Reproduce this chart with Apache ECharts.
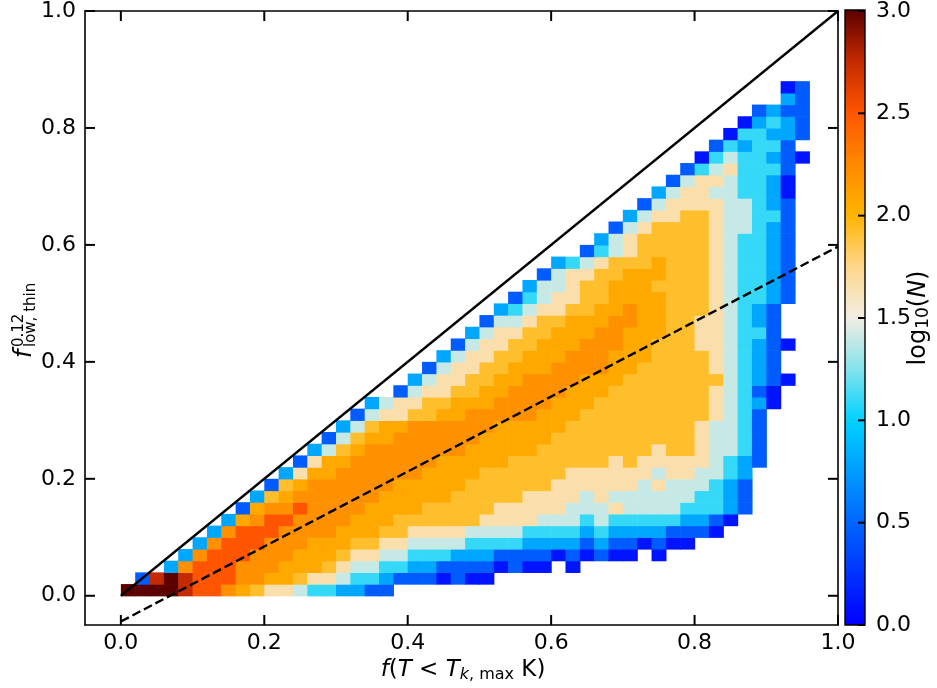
<!DOCTYPE html>
<html>
<head>
<meta charset="utf-8">
<script src="https://cdn.jsdelivr.net/npm/echarts@6/dist/echarts.min.js"></script>
<style>
html,body{margin:0;padding:0;background:#ffffff;}
#wrap{position:relative;width:937px;height:688px;}
#chart,#ticks{position:absolute;left:0;top:0;width:937px;height:688px;}
#ticks{pointer-events:none;}
</style>
</head>
<body>
<div id="wrap"><div id="chart"></div><div id="ticks"></div></div>
<script>
// ---------------- data ----------------
const X_TICKS = [0, 0.2, 0.4, 0.6, 0.8, 1.0];
const Y_TICKS = [0, 0.2, 0.4, 0.6, 0.8, 1.0];
const CB_TICKS = [0, 0.5, 1.0, 1.5, 2.0, 2.5, 3.0];

// bin width of the 2D histogram (x and y)
const BIN = 0.02;

// log10(N) value for each code letter used in ROW_CODES
const LEVELS = {'0':0.1,'1':0.45,'2':0.8,'3':1.1,'4':1.4,'5':1.65,'6':1.92,'7':2.07,'8':2.2,'9':2.5,'a':2.75,'b':3.0};

// first x-bin index of every y-bin row (row j covers y in [j*BIN,(j+1)*BIN])
const ROW_START = [0,1,3,4,5,6,7,8,9,10,11,12,13,14,15,16,17,19,20,21,22,23,24,25,26,27,28,29,30,32,33,34,35,36,37,38,39,40,41,42,43,44,45,46];

// histogram codes per row, starting at ROW_START ('.' = empty bin)
const ROW_CODES = [
  "bbbba99876554332211",
  "1aba999887765543321110100",
  "289998887776544332211110100.0",
  "28999888777655443332221111010100.0",
  "28999888777665544443333222212110100",
  "289998888777665555444433332322221110",
  "278998888777666666555544434333332210",
  "178898888777766666555554445444433321",
  "26788888877777666665555454444443321",
  "1678888887777766666655555545444321",
  "257788888877776666665555554554432",
  "157788888877777666666656555554321",
  "24678888888777776666666656654431",
  "1467788888877777666666666654431",
  "246778888887777766666666654431",
  "14556677888887776666666665431",
  "24556677788887776666666654320",
  "145566778888777666666654310",
  "245566778888777666666643210",
  "1455667778888776666654321",
  "245566777888777666654321",
  "145566777888776665543210",
  "2455667778877766554331",
  "144566777887766554321",
  "23455667787766654321",
  "13455667777666543321",
  "2445667776666543321",
  "145566777666543321",
  "23456667666543321",
  "134566666543321",
  "24566666543321",
  "1456666544321",
  "245566544331",
  "14555544321",
  "2455443320",
  "145543320",
  "13453331",
  "03433210",
  "132331",
  "033221",
  "02321",
  "1211",
  ".21",
  "01"
];

// reference lines
const SOLID_LINE = [[0, 0], [1, 1]];
const DASHED_LINE = [[0, -0.044], [1, 0.597]];

// colour map stops for log10(N) from 0 to 3 (evenly spaced)
const COLOR_STOPS = ['#0000ff','#0032ff','#0066ff','#009cff','#00d2ff','#86e2ec','#f2ede2','#ffd68a','#ffb400','#ff8800','#ff5500','#c42a00','#5c0000'];

// ---------------- build ----------------
const FONT = 'DejaVu Sans';
const cells = [];
ROW_CODES.forEach(function (codes, j) {
  for (let k = 0; k < codes.length; k++) {
    const ch = codes[k];
    if (ch === '.') continue;
    cells.push([(ROW_START[j] + k) * BIN, j * BIN, LEVELS[ch]]);
  }
});

const fmt1 = function (v) { return Number(v).toFixed(1); };
const AX_MIN = -0.05, AX_MAX = 1.0;
const TICK_LEN = 10, CB_TICK_LEN = 7, TICK_W = 2;
const GRIDS = [
  {left: 85, top: 10, width: 753, height: 615, show: false},
  {left: 845, top: 10, width: 20, height: 615, show: false}
];

function mainAxis(pos, showLabel, ticks) {
  return {
    type: 'value', gridIndex: 0, position: pos, min: AX_MIN, max: AX_MAX,
    axisLine: {show: true, onZero: false, lineStyle: {color: '#000', width: 1.6}},
    axisTick: {show: false},
    axisLabel: {show: showLabel, customValues: ticks.slice(), formatter: fmt1,
      margin: (pos === 'bottom' ? 7 : 9), fontSize: 22, fontFamily: FONT, color: '#000'},
    splitLine: {show: false}
  };
}

// inward tick marks drawn through the axes' own scales (api.coord)
function xTickItem(params, api) {
  const v = api.value(0);
  const b = api.coord([v, AX_MIN]);
  const t = api.coord([v, AX_MAX]);
  return {type: 'group', children: [
    {type: 'rect', shape: {x: b[0] - TICK_W / 2, y: b[1] - TICK_LEN, width: TICK_W, height: TICK_LEN}, style: {fill: '#000'}},
    {type: 'rect', shape: {x: t[0] - TICK_W / 2, y: t[1], width: TICK_W, height: TICK_LEN}, style: {fill: '#000'}}
  ]};
}
function yTickItem(params, api) {
  const v = api.value(1);
  const l = api.coord([AX_MIN, v]);
  const r = api.coord([AX_MAX, v]);
  return {type: 'group', children: [
    {type: 'rect', shape: {x: l[0], y: l[1] - TICK_W / 2, width: TICK_LEN, height: TICK_W}, style: {fill: '#000'}},
    {type: 'rect', shape: {x: r[0] - TICK_LEN, y: r[1] - TICK_W / 2, width: TICK_LEN, height: TICK_W}, style: {fill: '#000'}}
  ]};
}
function cbTickItem(params, api) {
  const p = api.coord([1, api.value(1)]);
  return {type: 'rect', shape: {x: p[0] - CB_TICK_LEN, y: p[1] - TICK_W / 2, width: CB_TICK_LEN, height: TICK_W}, style: {fill: '#000'}};
}

const chart = echarts.init(document.getElementById('chart'), null, {renderer: 'canvas'});

chart.setOption({
  animation: false,
  backgroundColor: '#ffffff',
  grid: GRIDS,
  xAxis: [
    mainAxis('bottom', true, X_TICKS),
    mainAxis('top', false, X_TICKS),
    {type: 'value', gridIndex: 1, show: false, min: 0, max: 1}
  ],
  yAxis: [
    mainAxis('left', true, Y_TICKS),
    mainAxis('right', false, Y_TICKS),
    {
      type: 'value', gridIndex: 1, position: 'right', min: 0, max: 3,
      axisLine: {show: false, onZero: false},
      axisTick: {show: false},
      axisLabel: {show: true, customValues: CB_TICKS.slice(), formatter: fmt1, margin: 11, fontSize: 22, fontFamily: FONT, color: '#000'},
      splitLine: {show: false}
    }
  ],
  visualMap: {
    type: 'continuous', show: false, min: 0, max: 3, dimension: 2, seriesIndex: 0,
    inRange: {color: COLOR_STOPS}
  },
  series: [
    {
      type: 'custom', xAxisIndex: 0, yAxisIndex: 0, silent: true, z: 1,
      dimensions: ['x', 'y', 'logN'], encode: {x: 0, y: 1},
      data: cells,
      renderItem: function (params, api) {
        const x0 = api.value(0), y0 = api.value(1);
        const a = api.coord([x0, y0]);
        const b = api.coord([x0 + BIN, y0 + BIN]);
        return {
          type: 'rect',
          shape: {x: a[0], y: b[1], width: b[0] - a[0] + 0.6, height: a[1] - b[1] + 0.6},
          style: {fill: api.visual('color')}
        };
      }
    },
    {
      type: 'line', xAxisIndex: 0, yAxisIndex: 0, data: SOLID_LINE, showSymbol: false, silent: true, z: 5,
      lineStyle: {color: '#000', width: 2.3}
    },
    {
      type: 'line', xAxisIndex: 0, yAxisIndex: 0, data: DASHED_LINE, showSymbol: false, silent: true, z: 5,
      lineStyle: {color: '#000', width: 2.4, type: [9, 4]}
    },
    {
      type: 'custom', xAxisIndex: 0, yAxisIndex: 0, silent: true, z: 40,
      encode: {x: 0, y: 1}, data: X_TICKS.map(function (v) { return [v, 0]; }),
      renderItem: xTickItem
    },
    {
      type: 'custom', xAxisIndex: 0, yAxisIndex: 0, silent: true, z: 40,
      encode: {x: 0, y: 1}, data: Y_TICKS.map(function (v) { return [0, v]; }),
      renderItem: yTickItem
    },
    {
      type: 'custom', xAxisIndex: 2, yAxisIndex: 2, silent: true, z: 40,
      encode: {x: 0, y: 1}, data: CB_TICKS.map(function (v) { return [1, v]; }),
      renderItem: cbTickItem
    }
  ],
  graphic: [
    {
      id: 'cbar', type: 'rect', z: -10, silent: true,
      shape: {x: 845, y: 10, width: 20, height: 615},
      style: {fill: new echarts.graphic.LinearGradient(0, 1, 0, 0,
        COLOR_STOPS.map(function (c, i) { return {offset: i / (COLOR_STOPS.length - 1), color: c}; }))}
    },
    {
      id: 'cbarBorder', type: 'rect', z: 60, silent: true,
      shape: {x: 845, y: 10, width: 20, height: 615},
      style: {fill: 'none', stroke: '#000', lineWidth: 1.4}
    },
    {
      id: 'xname', type: 'text', z: 30, silent: true, x: 463, y: 670,
      style: {
        text: '{i|f}{n|(}{i|T}{n| < }{i|T}{si|k}{s|, max}{n| K)}',
        align: 'center', verticalAlign: 'middle',
        rich: {
          n: {fontSize: 23, fontFamily: FONT, fill: '#000'},
          i: {fontSize: 23, fontFamily: FONT, fontStyle: 'italic', fill: '#000'},
          s: {fontSize: 16, fontFamily: FONT, fill: '#000', padding: [10, 0, 0, 0]},
          si: {fontSize: 16, fontFamily: FONT, fontStyle: 'italic', fill: '#000', padding: [10, 0, 0, 0]}
        }
      }
    },
    {
      id: 'yname', type: 'group', x: 25, y: 358, rotation: Math.PI / 2, silent: true, z: 30,
      children: [
        {type: 'text', x: 0, y: 0, style: {text: 'f', fontSize: 24, fontStyle: 'italic', fontFamily: FONT, fill: '#000', align: 'left', verticalAlign: 'middle'}},
        {type: 'text', x: 11, y: -6, style: {text: '0.12', fontSize: 15, fontFamily: FONT, fill: '#000', align: 'left', verticalAlign: 'middle'}},
        {type: 'text', x: 11, y: 6, style: {text: 'low, thin', fontSize: 15, fontFamily: FONT, fill: '#000', align: 'left', verticalAlign: 'middle'}}
      ]
    },
    {
      id: 'cbname', type: 'text', x: 919, y: 318, rotation: Math.PI / 2, silent: true, z: 30,
      style: {
        text: '{a|log}{s|10}{a|(}{i|N}{a|)}',
        align: 'center', verticalAlign: 'middle',
        rich: {
          a: {fontSize: 24, fontFamily: FONT, fill: '#000'},
          i: {fontSize: 24, fontFamily: FONT, fontStyle: 'italic', fill: '#000'},
          s: {fontSize: 17, fontFamily: FONT, fill: '#000', padding: [10, 0, 0, 0]}
        }
      }
    }
  ]
});

// ---- transparent overlay instance carrying the inward axis ticks ----
function tickAxis(pos, ticks, gridIndex, min, max, len) {
  return {
    type: 'value', gridIndex: gridIndex, position: pos, min: min, max: max,
    axisLine: {show: false, onZero: false},
    axisTick: {show: true, inside: true, length: len, customValues: ticks.slice(), lineStyle: {color: '#000', width: TICK_W}},
    axisLabel: {show: false},
    splitLine: {show: false}
  };
}
const tickChart = echarts.init(document.getElementById('ticks'), null, {renderer: 'canvas'});
tickChart.setOption({
  animation: false,
  grid: GRIDS,
  xAxis: [
    tickAxis('bottom', X_TICKS, 0, AX_MIN, AX_MAX, TICK_LEN),
    tickAxis('top', X_TICKS, 0, AX_MIN, AX_MAX, TICK_LEN),
    {type: 'value', gridIndex: 1, show: false, min: 0, max: 1}
  ],
  yAxis: [
    tickAxis('left', Y_TICKS, 0, AX_MIN, AX_MAX, TICK_LEN),
    tickAxis('right', Y_TICKS, 0, AX_MIN, AX_MAX, TICK_LEN),
    tickAxis('right', CB_TICKS, 1, 0, 3, CB_TICK_LEN)
  ],
  series: [
    {type: 'line', xAxisIndex: 0, yAxisIndex: 0, data: SOLID_LINE, showSymbol: false, silent: true, lineStyle: {opacity: 0}},
    {type: 'line', xAxisIndex: 1, yAxisIndex: 1, data: SOLID_LINE, showSymbol: false, silent: true, lineStyle: {opacity: 0}},
    {type: 'line', xAxisIndex: 2, yAxisIndex: 2, data: CB_TICKS.map(function (v) { return [1, v]; }), showSymbol: false, silent: true, lineStyle: {opacity: 0}}
  ]
});
</script>
</body>
</html>
